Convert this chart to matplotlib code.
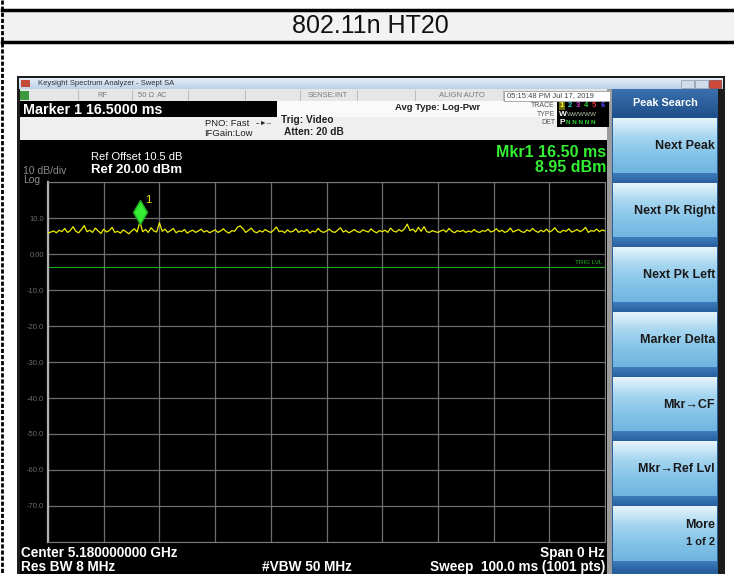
import numpy as np
import matplotlib
matplotlib.use('Agg')
import matplotlib.pyplot as plt
from matplotlib.patches import Rectangle
from matplotlib.colors import LinearSegmentedColormap

plt.rcParams['font.family'] = ['Liberation Sans', 'DejaVu Sans']

W, H = 734, 574

# zero span sweep, trace values (dBm)
sweep_ms = 100.0
trace_dbm = [
    5.8, 6.1, 6.4, 5.9, 6.6, 6.2, 7.1, 6.0, 6.5, 7.6, 6.3, 5.9, 6.8, 7.9, 6.2, 6.6, 6.0, 7.2, 6.4, 5.7,
    6.9, 6.1, 6.5, 7.4, 6.0, 6.3, 5.8, 6.7, 6.2, 5.6, 6.4, 7.0, 6.1, 8.95, 6.2, 6.8, 6.0, 7.3, 6.4, 6.1,
    8.7, 6.3, 6.9, 6.0, 6.5, 7.1, 5.9, 6.4, 6.2, 6.8, 5.8, 6.3, 6.6, 6.0, 6.4, 6.9, 6.1, 6.5, 5.9, 6.3,
    6.7, 6.0, 6.4, 7.0, 6.2, 5.8, 6.5, 6.3, 7.4, 7.8, 7.0, 6.0, 6.6, 7.2, 6.2, 5.9, 6.5, 6.1, 6.8, 6.3,
    6.0, 6.6, 7.5, 6.2, 6.4, 5.9, 6.7, 6.1, 6.3, 7.0, 6.0, 6.5, 6.2, 6.8, 5.8, 6.4, 6.1, 7.1, 6.3, 6.0,
    6.4, 6.9, 6.2, 6.0, 6.6, 7.3, 6.1, 6.5, 5.9, 6.3, 6.8, 6.2, 6.0, 6.7, 6.4, 6.1, 7.0, 6.3, 5.9, 6.5,
    6.2, 6.6, 6.0, 7.2, 6.4, 6.1, 6.8, 6.3, 7.0, 8.3, 6.5, 6.9, 6.1, 7.4, 6.3, 7.6, 6.2, 6.0, 6.5, 6.2,
    6.0, 6.4, 6.7, 6.1, 7.1, 6.3, 5.9, 6.5, 6.2, 6.6, 6.0, 6.4, 6.1, 6.8, 6.2, 6.0, 6.5, 6.3, 6.9, 6.1,
    6.4, 7.0, 6.2, 6.6, 6.0, 6.3, 7.2, 6.1, 6.5, 6.8, 6.2, 6.0, 6.7, 6.3, 7.1, 6.4, 6.0, 6.6, 6.2, 6.9,
    6.1, 6.5, 7.3, 6.2, 6.0, 6.6, 6.3, 7.0, 6.1, 6.4, 6.8, 6.2, 6.6, 7.4, 6.0, 6.5, 6.3, 6.9, 6.2, 6.7, 6.4,
]
marker_ms = 16.5
marker_dbm = 8.95
trig_lvl_dbm = -3.5
ref_level = 20.0
db_per_div = 10
n_div = 10
y_ticks = [20, 10, 0, -10, -20, -30, -40, -50, -60, -70, -80]
y_tick_labels = ['', '10.0', '0.00', '-10.0', '-20.0', '-30.0', '-40.0', '-50.0', '-60.0', '-70.0', '']
softkeys = ['Next Peak', 'Next Pk Right', 'Next Pk Left', 'Marker Delta',
            'Mkr\u2192CF', 'Mkr\u2192Ref Lvl', 'More']

fig = plt.figure(figsize=(W / 100, H / 100), dpi=100)
canvas = fig.add_axes([0, 0, 1, 1])
canvas.axis('off')


def rect(x0, y0, x1, y1, color, z=1, **kw):
    canvas.add_patch(Rectangle((x0, y0), x1 - x0, y1 - y0, facecolor=color,
                               edgecolor=kw.pop('ec', 'none'), zorder=z, **kw))


def grad(x0, y0, x1, y1, colors, z=1):
    cmap = LinearSegmentedColormap.from_list('g', colors)
    canvas.imshow(np.linspace(0, 1, 64).reshape(-1, 1), cmap=cmap, aspect='auto',
                  extent=(x0, x1, y1, y0), zorder=z, interpolation='bilinear')


def txt(x, y, s, size, color, weight='normal', ha='left', **kw):
    canvas.text(x, y, s, fontsize=size, color=color, fontweight=weight,
                ha=ha, va='center', zorder=5, **kw)


# table cell with title
rect(3, 10, W, 41, '#f2f2f2')
canvas.plot([2, W], [9.5, 9.5], color='black', lw=2.5, zorder=3)
canvas.plot([2, W], [41.5, 41.5], color='black', lw=2.5, zorder=3)
canvas.plot([2, 2], [0, H], color='black', lw=2, ls=(0, (1.5, 0.7)), zorder=3)
txt(370, 26, '802.11n HT20', 18, '#111111', ha='center')

# analyzer window
rect(17, 76, 725, H, '#1c1c1c')
grad(19, 78, 723, 89, ['#e4edf7', '#bcd1e8'])
rect(21, 80, 30, 87, '#c44a3a', z=2)
txt(38, 83.5, 'Keysight Spectrum Analyzer - Swept SA', 5.5, '#333333')
rect(681, 79.5, 694, 88, '#d0dcea', z=2, ec='#8899aa', lw=0.5)
rect(695, 79.5, 708, 88, '#d0dcea', z=2, ec='#8899aa', lw=0.5)
rect(709, 79.5, 721, 88, '#d0483a', z=2, ec='#884444', lw=0.5)

# status row
rect(20, 89, 611, 101, '#e6e6e6')
rect(20, 90.5, 29, 100, '#3c9a3c', z=2)
for sx in [78, 132, 188, 245, 300, 357, 415, 503]:
    canvas.plot([sx, sx], [90, 100], color='#b5b5b5', lw=0.6, zorder=2)
txt(97, 95.5, 'RF', 5.5, '#7a7a7a')
txt(138, 95.5, '50 \u03a9', 5.5, '#7a7a7a')
txt(157, 95.5, 'AC', 5.5, '#7a7a7a')
txt(308, 95.5, 'SENSE:INT', 5.5, '#7a7a7a')
txt(439, 95.5, 'ALIGN AUTO', 5.5, '#7a7a7a')
rect(504, 90.5, 610, 100.5, 'white', z=2, ec='#9a9a9a', lw=0.6)
txt(507, 95.5, '05:15:48 PM Jul 17, 2019', 5.5, '#444444')

# marker / setup panel
rect(20, 101, 611, 140, '#efefef')
rect(277, 101, 611, 117, '#fafafa')
rect(20, 101, 277, 117, 'black', z=2)
txt(23, 109.5, 'Marker 1 16.5000 ms', 10.3, 'white', 'bold')
txt(205, 123, 'PNO: Fast', 6.8, '#222222')
txt(204, 133, 'IFGain:Low', 6.8, '#222222')
txt(256, 123, '--\u25ba--', 5, '#222222')
txt(281, 120, 'Trig: Video', 7.3, '#222222', 'bold')
txt(284, 132, 'Atten: 20 dB', 7.3, '#222222', 'bold')
txt(395, 107.5, 'Avg Type: Log-Pwr', 6.8, '#222222', 'bold')
txt(555, 105.5, 'TRACE', 5, '#555555', ha='right')
txt(555, 114, 'TYPE', 5, '#555555', ha='right')
txt(555, 122.5, 'DET', 5, '#555555', ha='right')
rect(557, 101.5, 609, 127, 'black', z=2)
rect(558.5, 102, 565, 109.5, '#6e6e00', z=3)
trace_cols = ['#ffff40', '#30d0d0', '#d040d0', '#30d030', '#e03030', '#5050ff']
for i, c in enumerate(trace_cols):
    txt(561.5 + 8.2 * i, 105.8, str(i + 1), 5.5, c, 'bold', ha='center')
txt(559, 114, 'W', 6, 'white', 'bold')
txt(566.5, 114, 'WWWWW', 4.6, '#b8c8a8')
txt(559.5, 122.5, 'P', 6, 'white', 'bold')
txt(566.5, 122.5, 'N N N N N', 4.6, '#30d030', 'bold')

# display area
rect(20, 140, 607, H, 'black')
txt(91, 157.5, 'Ref Offset 10.5 dB', 8, 'white')
txt(91, 170, 'Ref 20.00 dBm', 9.5, 'white', 'bold')
txt(23, 171.5, '10 dB/div', 7.5, '#8a8a8a')
txt(23, 180, 'Log', 7.5, '#8a8a8a')
txt(606, 152.5, 'Mkr1 16.50 ms', 11.5, '#33ee33', 'bold', ha='right')
txt(606, 167, '8.95 dBm', 11.5, '#33ee33', 'bold', ha='right')
txt(21, 553, 'Center 5.180000000 GHz', 9.8, 'white', 'bold')
txt(21, 567, 'Res BW 8 MHz', 9.8, 'white', 'bold')
txt(262, 567, '#VBW 50 MHz', 9.8, 'white', 'bold')
txt(605, 553, 'Span 0 Hz', 9.8, 'white', 'bold', ha='right')
txt(605, 567, 'Sweep  100.0 ms (1001 pts)', 9.8, 'white', 'bold', ha='right')

# softkey panel
rect(607, 89, 612, H, '#9c9c9c')
rect(612, 89, 718, H, '#2a5f9e')
grad(612, 89, 718, 118, ['#3a70ae', '#1f4f8a'])
txt(665, 103.5, 'Peak Search', 7.8, 'white', 'bold', ha='center')
for k, key in enumerate(softkeys):
    top = 118 + 64.7 * k
    grad(613, top, 717, top + 55, ['#e6f4fb', '#a6d6f0', '#84c3e8', '#6fb5e0'])
    grad(613, top + 55, 717, top + 64.7, ['#3f7cbc', '#28609f'])
    if key == 'More':
        txt(715, top + 19, key, 9, '#1a1a1a', 'bold', ha='right')
        txt(715, top + 36, '1 of 2', 8, '#1a1a1a', 'bold', ha='right')
    else:
        txt(715, top + 28, key, 9, '#1a1a1a', 'bold', ha='right')

canvas.set_xlim(0, W)
canvas.set_ylim(H, 0)

# graticule
ax = fig.add_axes([48 / W, 1 - 542 / H, 557 / W, 360 / H])
ax.set_facecolor('black')
times = np.linspace(0, sweep_ms, len(trace_dbm))
ax.plot(times, trace_dbm, color='#eeee00', lw=0.9, zorder=3)
ax.axhline(trig_lvl_dbm, color='#22aa22', lw=0.8, zorder=2)
ax.annotate('TRIG LVL', (sweep_ms, trig_lvl_dbm), xytext=(-3, 2), textcoords='offset pixels',
            ha='right', va='bottom', fontsize=4.5, color='#22bb22')
ax.plot(marker_ms, marker_dbm, marker='d', ms=12, color='#33ee33', mec='#22aa22',
        transform=ax.transData + matplotlib.transforms.ScaledTranslation(0, 10 / 100, fig.dpi_scale_trans),
        zorder=4)
ax.annotate('1', (marker_ms, marker_dbm), xytext=(5, 17), textcoords='offset pixels',
            fontsize=8, color='#eeee00', va='bottom')
ax.set_xlim(0, sweep_ms)
ax.set_ylim(ref_level - db_per_div * n_div, ref_level)
ax.set_xticks(np.linspace(0, sweep_ms, 11))
ax.set_xticklabels([])
ax.set_yticks(y_ticks)
ax.set_yticklabels(y_tick_labels)
ax.tick_params(length=0)
ax.tick_params(axis='y', pad=3, labelsize=5.5, labelcolor='#6a6a6a')
ax.grid(color='#6e6e6e', lw=0.9)
ax.set_axisbelow(True)
for s in ax.spines.values():
    s.set_color('#7a7a7a')
ax.spines['left'].set_color('#b0b0b0')
ax.spines['left'].set_linewidth(1.6)

fig.savefig('out.png', dpi=100)
